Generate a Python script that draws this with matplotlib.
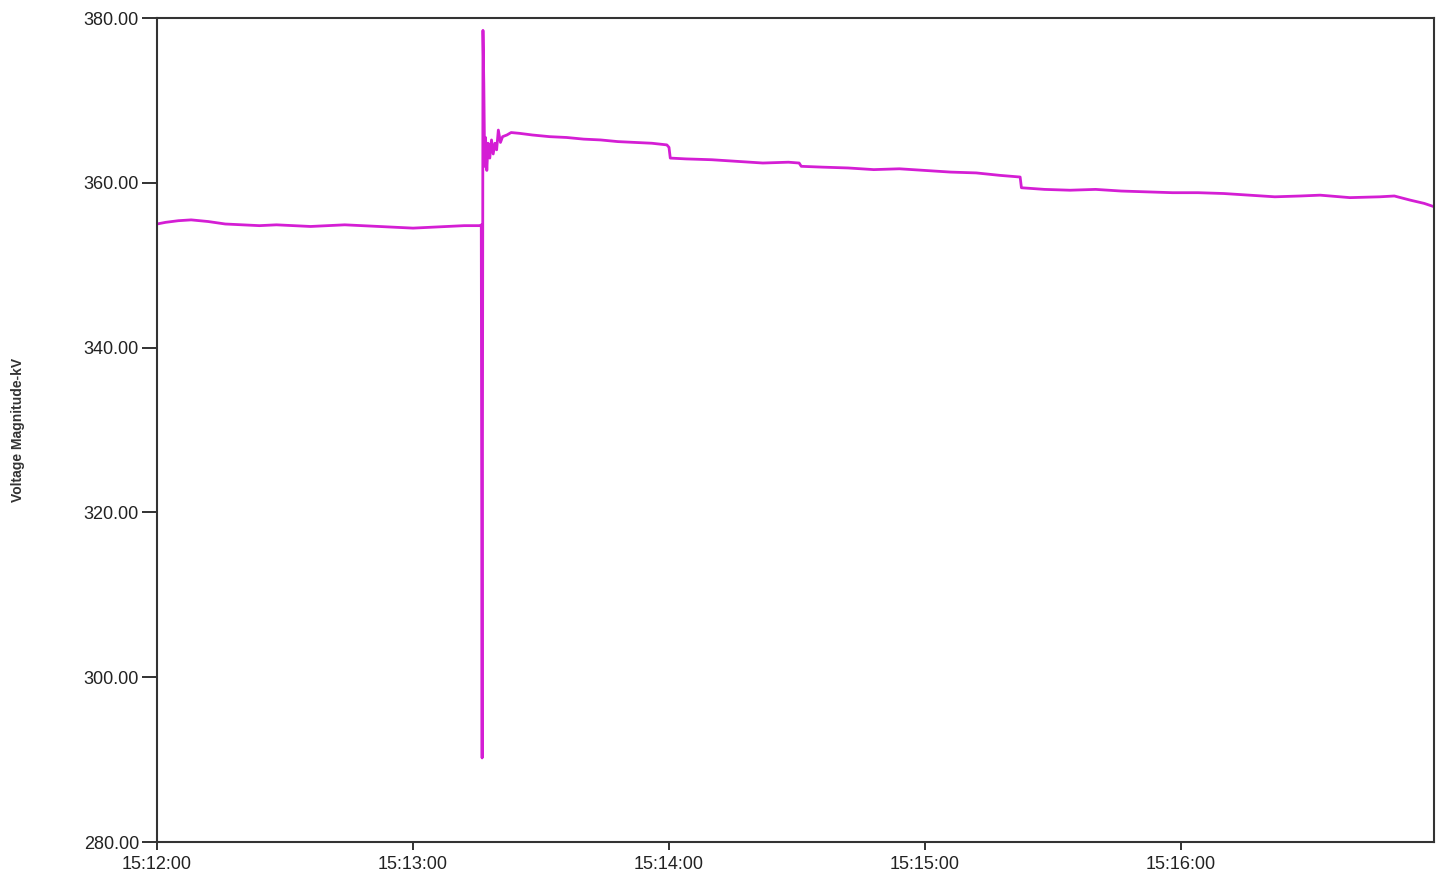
import matplotlib
matplotlib.use("Agg")
import matplotlib.pyplot as plt
import numpy as np

# time in seconds after 15:12:00
t_sec = [0, 2, 5, 8, 12, 16, 20, 24, 28, 32, 36, 40, 44, 48, 52, 56, 60, 64, 68, 72, 75.8,
         76.0, 76.2, 76.4, 76.6, 76.8, 77.0, 77.3, 77.6, 78.0, 78.4, 78.8, 79.2, 79.6, 80.0,
         80.5, 81.0, 82.0, 83.0, 85, 88, 92, 96, 100, 104, 108, 112, 116, 119.5,
         120.0, 120.3, 124, 130, 136, 142, 148, 150.5, 151, 156, 162, 168, 174, 180,
         186, 192, 197.6, 202.3, 202.6, 208, 214, 220, 226, 232, 238, 244, 250, 256,
         262, 268, 272.6, 279.6, 286.6, 290, 293.7, 297, 299.3]
voltage_kv = [355.0, 355.2, 355.4, 355.5, 355.3, 355.0, 354.9, 354.8, 354.9, 354.8, 354.7,
              354.8, 354.9, 354.8, 354.7, 354.6, 354.5, 354.6, 354.7, 354.8, 354.8,
              354.9, 290.2, 378.5, 372.0, 362.0, 365.5, 361.5, 364.8, 363.0, 365.2, 363.5,
              364.8, 364.0, 366.4, 364.9, 365.6, 365.8, 366.1, 366.0, 365.8, 365.6, 365.5,
              365.3, 365.2, 365.0, 364.9, 364.8, 364.6,
              364.3, 363.0, 362.9, 362.8, 362.6, 362.4, 362.5, 362.4, 362.0, 361.9, 361.8,
              361.6, 361.7, 361.5, 361.3, 361.2, 360.9, 360.7, 359.4, 359.2, 359.1, 359.2,
              359.0, 358.9, 358.8, 358.8, 358.7, 358.5, 358.3, 358.4, 358.5, 358.2, 358.3,
              358.4, 357.9, 357.5, 357.1]

x_ticks = [0, 60, 120, 180, 240]
x_ticklabels = ["15:12:00", "15:13:00", "15:14:00", "15:15:00", "15:16:00"]
y_ticks = [280, 300, 320, 340, 360, 380]
y_label = "Voltage Magnitude-kV"

plt.rcParams['font.family'] = ['Liberation Sans Narrow', 'Liberation Sans', 'DejaVu Sans']

fig = plt.figure(figsize=(14.38, 8.77), dpi=100)
ax = fig.add_axes([157/1438, 35/877, (1434-157)/1438, (842-18)/877])
ax.plot(t_sec, voltage_kv, color='#d41ed4', linewidth=2.0)

ax.set_xlim(0, 299.3)
ax.set_ylim(280, 380)
ax.set_xticks(x_ticks)
ax.set_xticklabels(x_ticklabels)
ax.set_yticks(y_ticks)
ax.set_yticklabels([f"{v:.2f}" for v in y_ticks])
ax.tick_params(axis='y', length=11, width=1.3, pad=2, labelsize=13, colors='#222222')
ax.tick_params(axis='x', length=6, width=1.3, pad=4, labelsize=13, colors='#222222')
for s in ax.spines.values():
    s.set_linewidth(1.5)
    s.set_color('#333333')

fig.text(18/1438, 1 - 430/877, y_label, rotation=90, ha='center', va='center',
         fontsize=10, fontweight='bold', color='#333333')

fig.savefig("out.png", dpi=100)
